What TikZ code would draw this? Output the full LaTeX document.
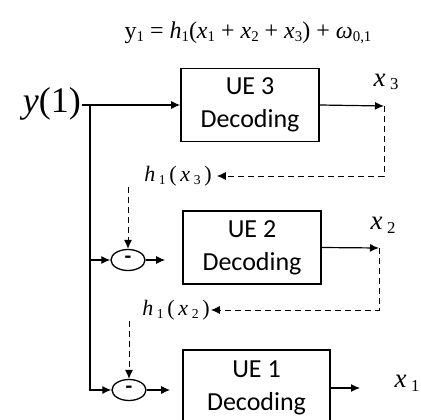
\documentclass[tikz,border=0pt]{standalone}
\usepackage{graphicx}
\usepackage{fontspec}
\newfontfamily\boxfont{Carlito}
\newfontfamily\tms{Liberation Serif}
\usetikzlibrary{arrows.meta,positioning,shapes.geometric}
\newcommand{\low}[1]{\raisebox{-0.3ex}{\scalebox{0.62}{#1}}}

\begin{document}
\begin{tikzpicture}[
    x=1pt, y=-1pt,
    >={Latex[length=9pt,width=8pt]},
    decbox/.style={draw, line width=1.6pt, minimum width=138pt, minimum height=73pt, inner sep=0pt, align=center, font=\boxfont\fontsize{26}{33}\selectfont},
    subtr/.style={draw, ellipse, line width=1.3pt, minimum width=34pt, minimum height=21pt, inner sep=0pt, font=\boxfont\bfseries\fontsize{22}{22}\selectfont},
    sig/.style={->, line width=1.2pt},
    fb/.style={->, line width=1pt, dash pattern=on 6pt off 4pt},
    lbl/.style={inner sep=1pt, font=\tms\fontsize{27}{30}\selectfont},
    hlbl/.style={inner sep=1pt, font=\tms\fontsize{22}{26}\selectfont}
]
\clip (0,0) rectangle (421,420);

\node[font=\tms\fontsize{24}{28}\selectfont] (eq) at (248,33) {y\low{1} = \textit{h}\low{1}(\textit{x}\low{1} + \textit{x}\low{2} + \textit{x}\low{3}) + \textit{ω}\low{0,1}};

\node[anchor=east, inner sep=1pt, font=\tms\fontsize{36}{40}\selectfont] (yin) at (82,104) {\textit{y}(1)};

\node[decbox] (ue3) at (250,105) {UE 3\\Decoding};
\node[decbox] (ue2) at (252,247.5) {UE 2\\Decoding};
\node[decbox, minimum width=147pt, minimum height=76pt] (ue1) at (256.5,388) {UE 1\\Decoding};

\node[subtr] (sub2) at (128,260) {-};
\node[subtr] (sub1) at (129,390) {-};

\node[hlbl] (h3) at (178,176) {\textit{h}\,\low{1}\,(\,\textit{x}\,\low{3}\,)};
\node[hlbl] (h2) at (176,310) {\textit{h}\,\low{1}\,(\,\textit{x}\,\low{2}\,)};

\node[lbl] (x3) at (386,82) {\textit{x}\,\low{3}};
\node[lbl] (x2) at (383,225) {\textit{x}\,\low{2}};
\node[lbl] (x1) at (407,383) {\textit{x}\,\low{1}};

\coordinate (split) at (90,105);
\coordinate (t3) at (384,106);
\coordinate (t2) at (379,248);
\coordinate (t1) at (360,388);

% received signal
\draw[sig] (yin.east |- ue3.west) -- (ue3.west);
\draw[sig] (split) |- (sub1.west);
\draw[sig] (split |- sub2.west) -- (sub2.west);

% decoder outputs
\draw[sig] (ue3.east) -- (t3);
\draw[sig] (ue2.east) -- (t2);
\draw[sig] (ue1.east) -- (t1);
\draw[sig, shorten >=17pt] (sub2.east) -- (ue2.west |- sub2.east);
\draw[sig, shorten >=12pt] (sub1.east) -- (ue1.west |- sub1.east);

% interference cancellation
\draw[fb, shorten >=4pt] (t3) |- (h3.east);
\draw[fb] (t2) |- (h2.east);
\draw[fb] (sub2.north |- h3.south) -- (sub2.north);
\draw[fb] (sub1.north |- h2.south) -- (sub1.north);
\end{tikzpicture}
\end{document}
